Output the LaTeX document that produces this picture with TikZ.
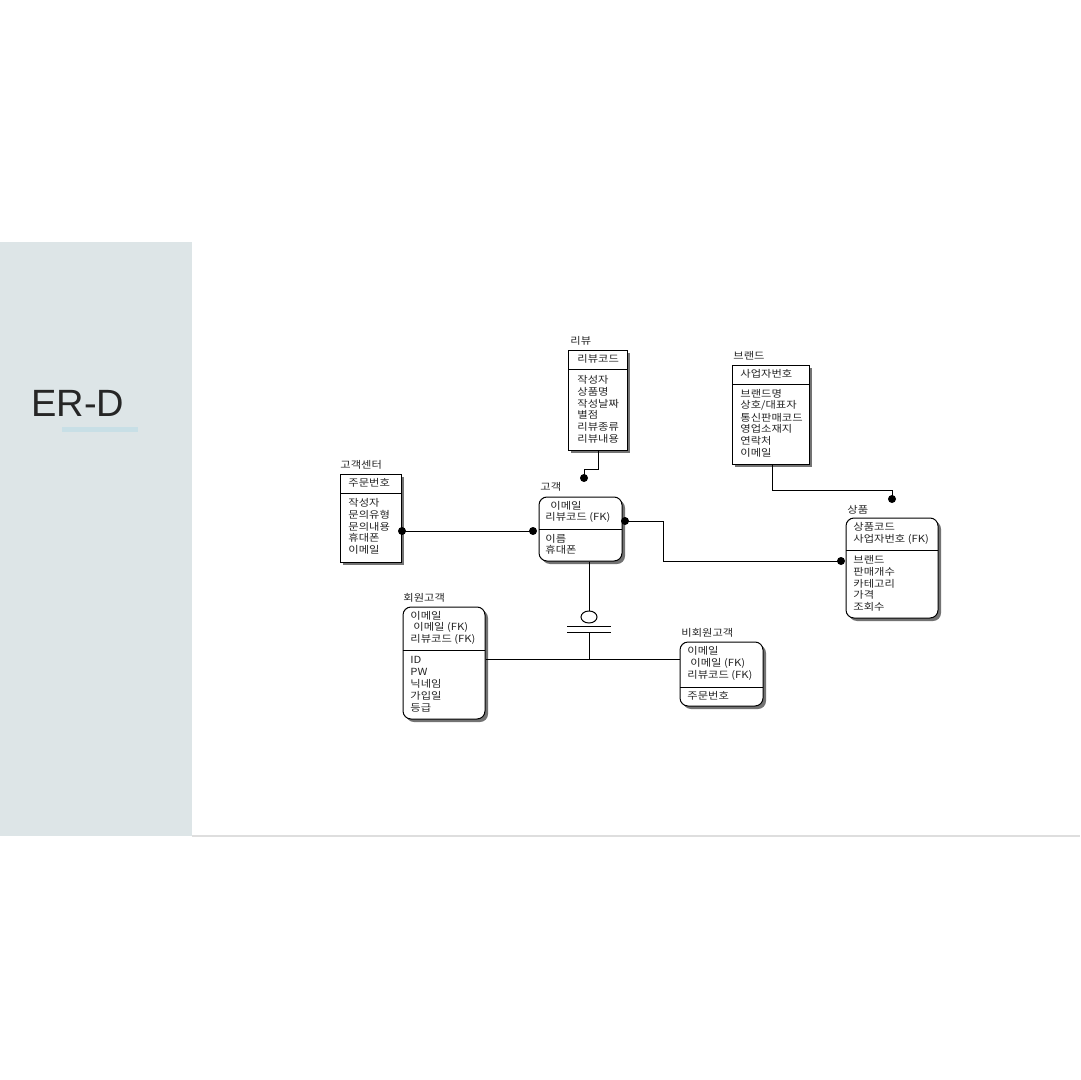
\documentclass[tikz,border=0pt]{standalone}
\usepackage{fontspec}
\setmainfont{Liberation Sans}
\newfontfamily\kr[FakeStretch=1.15]{Noto Sans CJK KR}
\usetikzlibrary{fit,shadows,shapes.geometric}
\definecolor{panel}{RGB}{221,229,231}
\definecolor{underl}{RGB}{200,223,230}
\definecolor{rule}{RGB}{222,222,222}
\begin{document}
\begin{tikzpicture}[x=0.5pt,y=-0.5pt,
  ent/.style={draw=black, line width=0.5pt, fill=white, inner sep=0pt,
    drop shadow={shadow xshift=1.5pt, shadow yshift=-1.5pt, fill=black!55, opacity=1}},
  dep/.style={ent, rounded corners=4pt},
  txt/.style={anchor=west, inner sep=0pt, font=\kr\fontsize{4.9}{6}\selectfont, text=black!85},
  dot/.style={circle, fill=black, inner sep=0pt, minimum size=4pt},
  conn/.style={line width=0.5pt, draw=black},
  sepline/.style={line width=0.5pt, draw=black}]
\useasboundingbox (0,0) rectangle (1080,1080);
% page
\node[fill=panel, inner sep=0pt, fit={(0,242)(192,836)}] (panel) {};
\draw[line width=1pt, draw=rule] (192,836) -- (1080,836);
\node[anchor=base west, inner sep=0pt, font=\fontsize{19}{19}\selectfont, text=black!85] (title) at (31,416) {ER-D};
\node[fill=underl, inner sep=0pt, fit={(62,427)(138,432)}] (uline) {};

% 리뷰
\node[txt] (revl) at (570,341) {리뷰};
\node[ent, fit={(568,350)(627,450)}] (rev) {};
\draw[sepline] (568,369) -- (627,369);
\node[txt] (revk) at (577,359) {리뷰코드};
\foreach \t [count=\i] in {작성자,상품명,작성날짜,별점,리뷰종류,리뷰내용}
  \node[txt] (reva\i) at (577,{380+11.7*(\i-1)}) {\t};

% 브랜드
\node[txt] (brl) at (733,356) {브랜드};
\node[ent, fit={(732,365)(809,464)}] (brand) {};
\draw[sepline] (732,384) -- (809,384);
\node[txt] (brk) at (740,374) {사업자번호};
\foreach \t [count=\i] in {브랜드명,상호/대표자,통신판매코드,영업소재지,연락처,이메일}
  \node[txt] (bra\i) at (740,{394+11.7*(\i-1)}) {\t};

% 고객센터
\node[txt] (csl) at (340,465) {고객센터};
\node[ent, fit={(340,474)(401,562)}] (cs) {};
\draw[sepline] (340,493) -- (401,493);
\node[txt] (csk) at (348,483) {주문번호};
\foreach \t [count=\i] in {작성자,문의유형,문의내용,휴대폰,이메일}
  \node[txt] (csa\i) at (348,{503+11.7*(\i-1)}) {\t};

% 고객
\node[txt] (cul) at (540,487) {고객};
\node[dep, fit={(539,497)(622,561)}] (cust) {};
\draw[sepline] (539,529) -- (622,529);
\node[txt] (cuk1) at (550,506) {이메일};
\node[txt] (cuk2) at (545,517) {리뷰코드 (FK)};
\node[txt] (cua1) at (545,539) {이름};
\node[txt] (cua2) at (545,550) {휴대폰};

% 상품
\node[txt] (prl) at (847,510) {상품};
\node[dep, fit={(846,518)(938,618)}] (prod) {};
\draw[sepline] (846,550) -- (938,550);
\node[txt] (prk1) at (853,527) {상품코드};
\node[txt] (prk2) at (853,539) {사업자번호 (FK)};
\foreach \t [count=\i] in {브랜드,판매개수,카테고리,가격,조회수}
  \node[txt] (pra\i) at (853,{560+11.7*(\i-1)}) {\t};

% 회원고객
\node[txt] (meml) at (403,598) {회원고객};
\node[dep, fit={(403,607)(485,719)}] (mem) {};
\draw[sepline] (403,650) -- (485,650);
\node[txt] (memk1) at (410,616) {이메일};
\node[txt] (memk2) at (413,627.5) {이메일 (FK)};
\node[txt] (memk3) at (410,639) {리뷰코드 (FK)};
\foreach \t [count=\i] in {ID,PW,닉네임,가입일,등급}
  \node[txt] (mema\i) at (410,{660+12*(\i-1)}) {\t};

% 비회원고객
\node[txt] (nml) at (681,633) {비회원고객};
\node[dep, fit={(680,642)(763,706)}] (nmem) {};
\draw[sepline] (680,687) -- (763,687);
\node[txt] (nmk1) at (687,651) {이메일};
\node[txt] (nmk2) at (690,663) {이메일 (FK)};
\node[txt] (nmk3) at (687,675) {리뷰코드 (FK)};
\node[txt] (nma1) at (687,696) {주문번호};

% connectors
\node[dot] (d1) at (584,478) {};
\coordinate (r1) at (598,469);
\coordinate (r2) at (584,469);
\draw[conn] (rev.south -| r1) -- (r1) -- (r2) -- (d1.center);

\node[dot] (d2) at (402,531) {};
\node[dot] (d3) at (533,531) {};
\draw[conn] (d2.center) -- (d3.center);

\node[dot] (d4) at (625,521) {};
\node[dot] (d5) at (841,561) {};
\coordinate (p1) at (663,521);
\coordinate (p2) at (663,561);
\draw[conn] (d4.center) -- (p1) -- (p2) -- (d5.center);

\node[dot] (d6) at (892,499) {};
\coordinate (b1) at (772,490);
\coordinate (b2) at (892,490);
\draw[conn] (brand.south -| b1) -- (b1) -- (b2) -- (d6.center);

% subtype
\node[ellipse, draw=black, line width=0.5pt, inner sep=0pt, minimum width=8pt, minimum height=6pt] (sub) at (589,617) {};
\coordinate (s1a) at (567,626);
\coordinate (s1b) at (611,626);
\coordinate (s2a) at (567,632);
\coordinate (s2b) at (611,632);
\coordinate (s2m) at (589,632);
\coordinate (j) at (589,659);
\draw[conn] (cust.south -| sub) -- (sub.north);
\draw[conn] (s1a) -- (s1b);
\draw[conn] (s2a) -- (s2b);
\draw[conn] (s2m) -- (j);
\draw[conn] (mem.east |- j) -- (nmem.west |- j);
\end{tikzpicture}
\end{document}
